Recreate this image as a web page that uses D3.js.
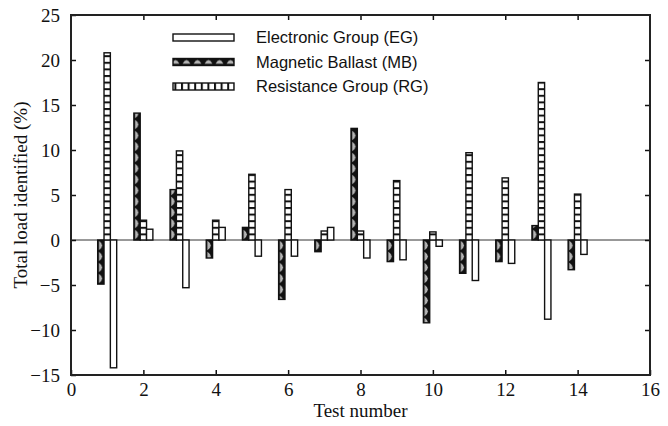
<!DOCTYPE html>
<meta charset="utf-8">
<head>
    <title>Total load identified</title>
    <script src="https://d3js.org/d3.v7.min.js"></script>
</head>

<style>
body { margin: 0; background: #fff; }
.axis-title { font-family: "Liberation Serif", "Times New Roman", serif; font-size: 19px; fill: #111; }
.legend text { font-family: "Liberation Sans", Arial, sans-serif; font-size: 16.5px; fill: #111; }
</style>

<body>

<svg></svg>

<script>

// test numbers on the x axis
let tests = [1, 2, 3, 4, 5, 6, 7, 8, 9, 10, 11, 12, 13, 14];

// percent of total load identified, per group
let magneticBallast = [-4.9, 14.1, 5.6, -2.0, 1.4, -6.6, -1.3, 12.4, -2.4, -9.2, -3.7, -2.4, 1.6, -3.3];
let resistanceGroup = [20.8, 2.2, 9.9, 2.2, 7.3, 5.6, 1.0, 1.0, 6.6, 0.9, 9.7, 6.9, 17.5, 5.1];
let electronicGroup = [-14.2, 1.2, -5.3, 1.4, -1.8, -1.8, 1.4, -2.0, -2.2, -0.7, -4.5, -2.6, -8.8, -1.6];

let xTicks = [0, 2, 4, 6, 8, 10, 12, 14, 16];
let yTicks = [-15, -10, -5, 0, 5, 10, 15, 20, 25];

let seriesNames = ["Electronic Group (EG)", "Magnetic Ballast (MB)", "Resistance Group (RG)"];

// set the dimensions and margins of the graph
let margin = {top: 15, right: 18, bottom: 51, left: 71};
let width = 668 - margin.left - margin.right;
let height = 426 - margin.top - margin.bottom;

let x = d3.scaleLinear().domain([0, 16]).range([0, width]);
let y = d3.scaleLinear().domain([-15, 25]).range([height, 0]);

let svg = d3.select("svg")
    .attr("width", 668)
    .attr("height", 426);

let defs = svg.append("defs");

let g = svg.append("g")
    .attr("transform", "translate(" + margin.left + "," + margin.top + ")");

// bar layout: MB, RG, EG side by side, centred on the test number
let barW = 0.175;
let offsets = {mb: -1.5 * barW, rg: -0.5 * barW, eg: 0.5 * barW};

let rows = tests.map(function(t, i) {
  return {t: t, mb: magneticBallast[i], rg: resistanceGroup[i], eg: electronicGroup[i]};
});

// a fill pattern for each bar so the texture lines up with the bar edges
function mbPattern(id, px, py, w, h, horizontal) {
  let p = defs.append("pattern")
    .attr("id", id)
    .attr("patternUnits", "userSpaceOnUse")
    .attr("x", px).attr("y", py)
    .attr("width", horizontal ? 11 : w)
    .attr("height", horizontal ? h : 11);
  p.append("rect").attr("width", horizontal ? 11 : w).attr("height", horizontal ? h : 11).attr("fill", "#111");
  if (horizontal) {
    p.append("path")
      .attr("d", "M1.5," + (h - 0.8) + "Q5.5,-1 9.5," + (h - 0.8) + "Z")
      .attr("fill", "#b4b4b4");
  } else {
    p.append("path")
      .attr("d", "M1.2,0.8Q" + (w + 1.5) + ",5.5 1.2,10.2Z")
      .attr("fill", "#b4b4b4");
  }
}

function rgPattern(id, px, py, w, h, horizontal) {
  let step = 6.6;
  let p = defs.append("pattern")
    .attr("id", id)
    .attr("patternUnits", "userSpaceOnUse")
    .attr("x", px).attr("y", py)
    .attr("width", horizontal ? step : w)
    .attr("height", horizontal ? h : step);
  p.append("rect").attr("width", horizontal ? step : w).attr("height", horizontal ? h : step).attr("fill", "#fff");
  p.append("rect")
    .attr("width", horizontal ? 2 : w)
    .attr("height", horizontal ? h : 2)
    .attr("fill", "#111");
}

let bw = x(barW) - x(0);

rows.forEach(function(d, i) {
  mbPattern("mb" + i, x(d.t + offsets.mb), y(0), bw, 0, false);
  rgPattern("rg" + i, x(d.t + offsets.rg), y(0), bw, 0, false);
});

// zero line
g.append("line")
  .attr("x1", 0).attr("x2", width)
  .attr("y1", y(0)).attr("y2", y(0))
  .attr("stroke", "#333")
  .attr("stroke-width", 1);

let keys = [
  {key: "mb", fill: function(d, i) { return "url(#mb" + i + ")"; }},
  {key: "rg", fill: function(d, i) { return "url(#rg" + i + ")"; }},
  {key: "eg", fill: function() { return "#fff"; }}
];

keys.forEach(function(k) {
  g.selectAll(".bar-" + k.key)
    .data(rows)
    .enter()
    .append("rect")
    .attr("class", "bar-" + k.key)
    .attr("x", function(d) { return x(d.t + offsets[k.key]); })
    .attr("y", function(d) { return y(Math.max(0, d[k.key])); })
    .attr("width", bw)
    .attr("height", function(d) { return Math.abs(y(d[k.key]) - y(0)); })
    .attr("fill", k.fill)
    .attr("stroke", "#111")
    .attr("stroke-width", 1.4);
});

// axes with inward ticks on all four sides
function styleAxis(a) {
  a.select(".domain").remove();
  a.selectAll(".tick line").attr("stroke", "#111").attr("stroke-width", 1.5);
  a.selectAll(".tick text")
    .style("font-family", "'Liberation Serif', 'Times New Roman', serif")
    .style("font-size", "19px")
    .attr("fill", "#111");
}

g.append("g")
  .attr("transform", "translate(0," + height + ")")
  .call(d3.axisBottom(x).tickValues(xTicks).tickSize(-5).tickPadding(8).tickFormat(d3.format("d")))
  .call(styleAxis);

g.append("g")
  .call(d3.axisTop(x).tickValues(xTicks.slice(1, -1)).tickSize(-5).tickFormat(""))
  .call(styleAxis);

g.append("g")
  .call(d3.axisLeft(y).tickValues(yTicks).tickSize(-5).tickPadding(11).tickFormat(d3.format("d")))
  .call(styleAxis);

g.append("g")
  .attr("transform", "translate(" + width + ",0)")
  .call(d3.axisRight(y).tickValues(yTicks.slice(1, -1)).tickSize(-5).tickFormat(""))
  .call(styleAxis);

// frame
g.append("rect")
  .attr("width", width)
  .attr("height", height)
  .attr("fill", "none")
  .attr("stroke", "#222")
  .attr("stroke-width", 2);

// axis titles
svg.append("text")
  .attr("class", "axis-title")
  .attr("x", margin.left + x(8))
  .attr("y", 417)
  .attr("text-anchor", "middle")
  .text("Test number");

svg.append("text")
  .attr("class", "axis-title")
  .attr("transform", "translate(27," + (margin.top + height / 2) + ") rotate(-90)")
  .attr("text-anchor", "middle")
  .text("Total load identified (%)");

// legend
let legX = 173, legY = 34;
let swW = 61, swH = 7, rowH = 24.5;

let legend = svg.append("g")
  .attr("class", "legend")
  .attr("transform", "translate(" + legX + "," + legY + ")");

mbPattern("mbLeg", legX, legY + rowH, 0, swH, true);
rgPattern("rgLeg", legX, legY + 2 * rowH, 0, swH, true);

let legendFills = ["#fff", "url(#mbLeg)", "url(#rgLeg)"];

seriesNames.forEach(function(name, i) {
  legend.append("rect")
    .attr("x", 0)
    .attr("y", i * rowH)
    .attr("width", swW)
    .attr("height", swH)
    .attr("fill", legendFills[i])
    .attr("stroke", "#111")
    .attr("stroke-width", 1.4);
  legend.append("text")
    .attr("x", 83)
    .attr("y", i * rowH + swH / 2)
    .attr("dy", "0.35em")
    .text(name);
});

</script>

</body>
